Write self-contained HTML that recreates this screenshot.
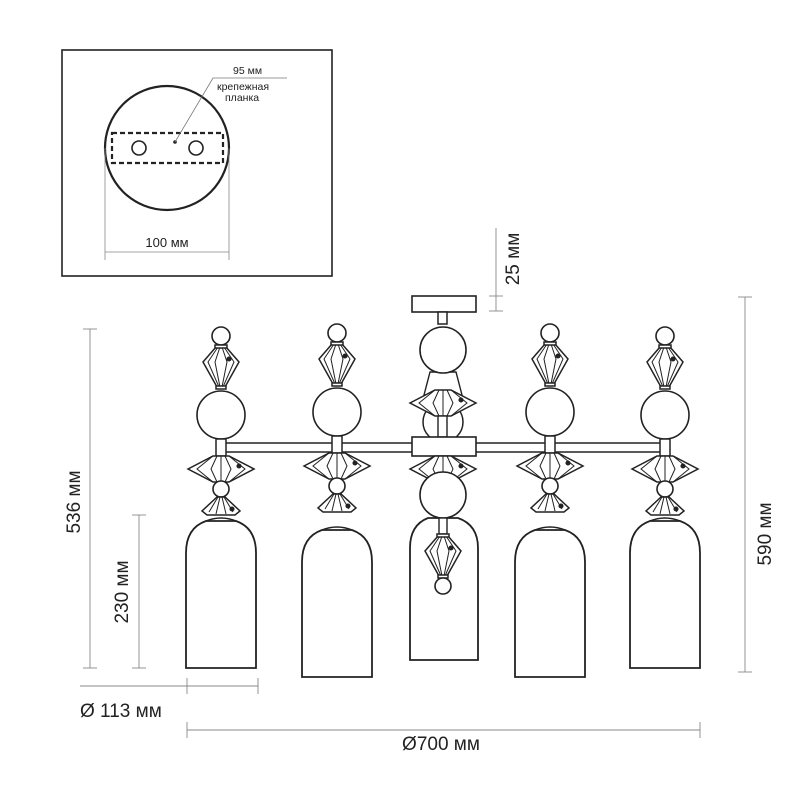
<!DOCTYPE html>
<html><head><meta charset="utf-8"><style>
html,body{margin:0;padding:0;background:#fff;width:800px;height:800px;overflow:hidden}
svg{display:block}
text{font-family:"Liberation Sans","DejaVu Sans",sans-serif;fill:#222}
</style></head><body>
<svg width="800" height="800" viewBox="0 0 800 800" xmlns="http://www.w3.org/2000/svg">
<defs>
<g id="cage" fill="#fff" stroke="#222" stroke-width="1.5">
 <path d="M-5,0 L-18,15 L-4,40 L4,40 L18,15 L5,0 Z"/>
 <path d="M-3,0 L-13,15 L-2,40 M3,0 L13,15 L2,40 M-1,0 L-6,15 L-1,40 M1,0 L6,15 L1,40" fill="none" stroke-width="1"/>
 <rect x="-6" y="-2" width="12" height="3"/><rect x="-5" y="39" width="10" height="3"/>
 <circle cx="8" cy="12" r="1.8" fill="#222"/>
</g>
<g id="flat" fill="#fff" stroke="#222" stroke-width="1.5">
 <path d="M-33,13 L-8,0 L8,0 L33,13 L8,26 L-8,26 Z"/>
 <path d="M-8,0 L-24,13 L-8,26 M8,0 L24,13 L8,26 M-4,0 L-10,13 L-4,26 M4,0 L10,13 L4,26 M0,0 L0,26" fill="none" stroke-width="1"/>
 <circle cx="18" cy="10" r="1.8" fill="#222"/>
</g>
<g id="small" fill="#fff" stroke="#222" stroke-width="1.5">
 <path d="M-4,0 L-19,14 L-14,18 L14,18 L19,14 L4,0 Z"/>
 <path d="M-3,0 L-12,15 M3,0 L12,15 M-1,0 L-5,17 M1,0 L5,17" fill="none" stroke-width="1"/>
 <circle cx="11" cy="12" r="1.8" fill="#222"/>
</g>
<g id="side">
 <circle cx="0" cy="-79" r="9" fill="#fff" stroke="#222" stroke-width="1.6"/>
 <use href="#cage" y="-68"/>
 <circle cx="0" cy="0" r="24" fill="#fff" stroke="#222" stroke-width="1.6"/>
 <rect x="-5" y="24" width="10" height="17" fill="#fff" stroke="#222" stroke-width="1.5"/>
 <use href="#flat" y="41"/>
 <circle cx="0" cy="74" r="8" fill="#fff" stroke="#222" stroke-width="1.6"/>
 <use href="#small" y="82"/>
</g>
<g id="shade">
 <path d="M-35,0 L-35,-115 Q-35,-140 -15,-147 L15,-147 Q35,-140 35,-115 L35,0 Z" fill="#fff" stroke="#222" stroke-width="1.8"/>
 <path d="M-15,-147 Q0,-153 15,-147" fill="none" stroke="#222" stroke-width="1.5"/>
</g>
</defs>

<rect x="62" y="50" width="270" height="226" fill="none" stroke="#222" stroke-width="1.6"/>
<circle cx="167" cy="148" r="62" fill="none" stroke="#222" stroke-width="2.2"/>
<rect x="112" y="133" width="111" height="30" fill="none" stroke="#222" stroke-width="2.2" stroke-dasharray="5,3"/>
<circle cx="139" cy="148" r="7" fill="none" stroke="#222" stroke-width="1.6"/>
<circle cx="196" cy="148" r="7" fill="none" stroke="#222" stroke-width="1.6"/>
<circle cx="175" cy="142" r="1.8" fill="#222"/>
<path d="M175,142 L213,78 L287,78" fill="none" stroke="#777" stroke-width="0.8"/>
<text x="233" y="74" font-size="10.5">95 мм</text>
<text x="217" y="90" font-size="10.5">крепежная</text>
<text x="225" y="101" font-size="10.5">планка</text>
<line x1="105" y1="148" x2="105" y2="260" stroke="#888" stroke-width="0.8"/>
<line x1="229" y1="148" x2="229" y2="260" stroke="#888" stroke-width="0.8"/>
<line x1="105" y1="252" x2="229" y2="252" stroke="#888" stroke-width="0.8"/>
<text x="167" y="247" font-size="13" text-anchor="middle">100 мм</text>

<rect x="221" y="443" width="444" height="9" fill="#fff" stroke="#222" stroke-width="1.5"/>

<use href="#side" x="221" y="415"/>
<use href="#shade" x="221" y="668"/>
<use href="#side" x="337" y="412"/>
<use href="#shade" x="337" y="677"/>
<use href="#side" x="550" y="412"/>
<use href="#shade" x="550" y="677"/>
<use href="#side" x="665" y="415"/>
<use href="#shade" x="665" y="668"/>

<rect x="412" y="296" width="64" height="16" fill="#fff" stroke="#222" stroke-width="1.6"/>
<rect x="438" y="312" width="9" height="12" fill="#fff" stroke="#222" stroke-width="1.5"/>
<path d="M410,660 L410,548 Q410,525 428,518 L458,518 Q478,525 478,548 L478,660 Z" fill="#fff" stroke="#222" stroke-width="1.8"/>
<circle cx="443" cy="422" r="20" fill="#fff" stroke="#222" stroke-width="1.5"/>
<path d="M430,372 L424,395 L462,395 L456,372 Z" fill="#fff" stroke="#222" stroke-width="1.4"/>
<circle cx="443" cy="350" r="23" fill="#fff" stroke="#222" stroke-width="1.6"/>
<use href="#flat" x="443" y="390"/>
<rect x="438" y="416" width="9" height="21" fill="#fff" stroke="#222" stroke-width="1.4"/>
<rect x="412" y="437" width="64" height="19" fill="#fff" stroke="#222" stroke-width="1.6"/>
<use href="#flat" x="443" y="456"/>
<circle cx="443" cy="495" r="23" fill="#fff" stroke="#222" stroke-width="1.6"/>
<rect x="439" y="518" width="8" height="16" fill="#fff" stroke="#222" stroke-width="1.4"/>
<use href="#cage" x="443" y="536"/>
<circle cx="443" cy="586" r="8" fill="#fff" stroke="#222" stroke-width="1.6"/>

<g stroke="#888" stroke-width="0.9">
 <line x1="90" y1="329" x2="90" y2="668"/><line x1="83" y1="329" x2="97" y2="329"/><line x1="83" y1="668" x2="97" y2="668"/>
 <line x1="139" y1="515" x2="139" y2="668"/><line x1="132" y1="515" x2="146" y2="515"/><line x1="132" y1="668" x2="146" y2="668"/>
 <line x1="745" y1="297" x2="745" y2="672"/><line x1="738" y1="297" x2="752" y2="297"/><line x1="738" y1="672" x2="752" y2="672"/>
 <line x1="496" y1="228" x2="496" y2="311"/><line x1="489" y1="296" x2="503" y2="296"/><line x1="489" y1="311" x2="503" y2="311"/>
 <line x1="80" y1="686" x2="258" y2="686"/><line x1="187" y1="678" x2="187" y2="694"/><line x1="258" y1="678" x2="258" y2="694"/>
 <line x1="187" y1="730" x2="700" y2="730"/><line x1="187" y1="722" x2="187" y2="738"/><line x1="700" y1="722" x2="700" y2="738"/>
</g>
<text x="0" y="0" font-size="19" text-anchor="middle" transform="translate(80,502) rotate(-90)">536 мм</text>
<text x="0" y="0" font-size="19" text-anchor="middle" transform="translate(128,592) rotate(-90)">230 мм</text>
<text x="0" y="0" font-size="19" text-anchor="middle" transform="translate(771,534) rotate(-90)">590 мм</text>
<text x="0" y="0" font-size="19" text-anchor="middle" transform="translate(519,259) rotate(-90)">25 мм</text>
<text x="80" y="717" font-size="19">Ø 113 мм</text>
<text x="441" y="750" font-size="19" text-anchor="middle">Ø700 мм</text>
</svg>
</body></html>
